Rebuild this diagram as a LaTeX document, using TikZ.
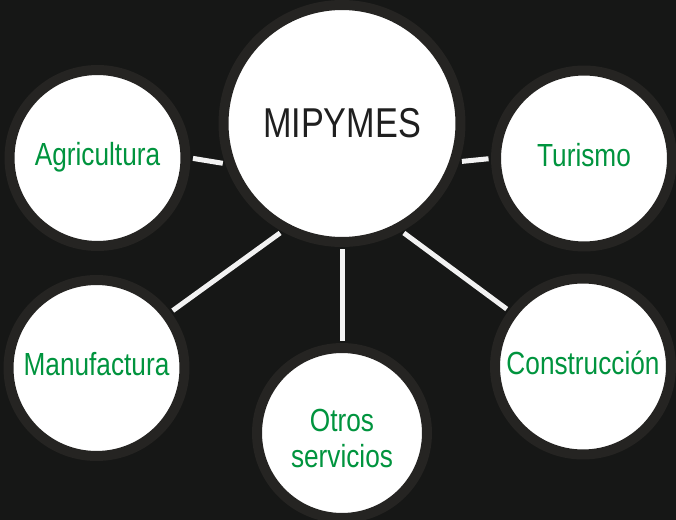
\documentclass[tikz,border=0pt]{standalone}
\usepackage{fontspec}
\setmainfont{Liberation Sans}[FakeStretch=0.82]
\usetikzlibrary{calc}
\definecolor{bgdark}{RGB}{22,23,22}
\definecolor{ringgray}{RGB}{37,36,34}
\definecolor{sectorgreen}{RGB}{0,148,62}
\definecolor{linkwhite}{RGB}{242,242,242}
\tikzset{
  hub/.style={circle,draw=ringgray,line width=0.2cm,fill=white,inner sep=0pt,outer sep=0.1cm,
    minimum size=4.74cm,text=black!88,font=\fontsize{23.75}{26}\selectfont},
  sector/.style={circle,draw=ringgray,line width=0.2cm,fill=white,inner sep=0pt,outer sep=0.1cm,
    minimum size=3.52cm,text=sectorgreen,font=\fontsize{18.2}{21}\selectfont,text height=13pt,text depth=4pt},
  link/.style={draw=linkwhite,line width=0.1cm,shorten <=0.05cm,shorten >=0.05cm}
}
\begin{document}
\begin{tikzpicture}[x=0.02cm,y=-0.02cm]
\fill[bgdark] (0,0) rectangle (676,520);
\useasboundingbox (0,0) rectangle (676,520);
% circles
\node[hub] (mipymes) at (342,123.5) {MIPYMES};
\node[sector] (agri) at (97.5,158) {Agricultura};
\node[sector] (turismo) at (584,158.5) {Turismo};
\node[sector] (manuf) at (96.5,368) {Manufactura};
\node[sector] (constr) at (583,366.5) {Construcción};
\node[sector,minimum size=3.4cm,text height=,text depth=,align=center] (otros) at (342,433) {\rule{0pt}{19pt}Otros\\servicios};
% links
\draw[link] (agri.east) -- (mipymes.199.5); \draw[link] (turismo.west) -- (mipymes.342.5);
\draw[link] (manuf.37) -- (mipymes.241); \draw[link] (mipymes.south) -- (otros.north);
\draw[link] (mipymes.299) -- (constr.143);
\end{tikzpicture}
\end{document}
